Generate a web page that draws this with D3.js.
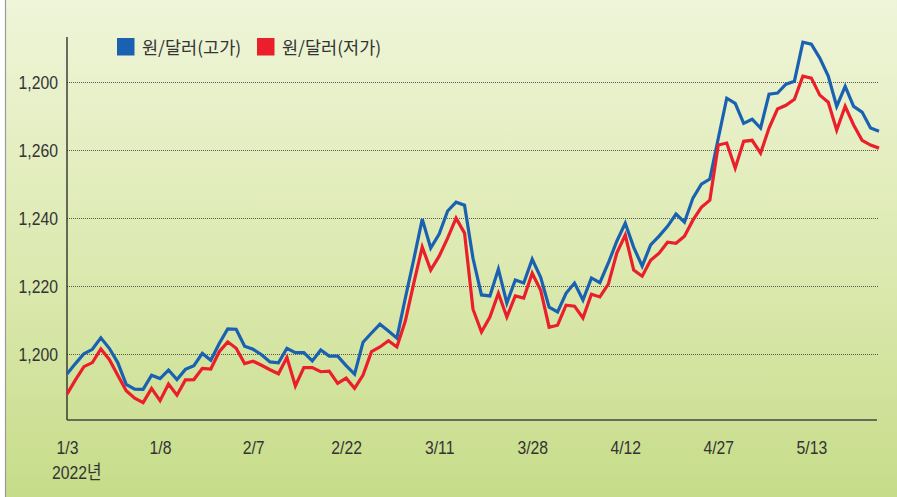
<!DOCTYPE html>
<html><head><meta charset="utf-8">
<script src="https://cdn.jsdelivr.net/npm/d3@7/dist/d3.min.js"></script>
<style>body{margin:0;background:#fff}</style></head>
<body><svg id="c" width="897" height="497"></svg>
<script>
const dateLabels = ["1/3","1/8","2/7","2/22","3/11","3/28","4/12","4/27","5/13"];
const dateIndex = [0,11,22,33,44,55,66,77,88];
const yearLabel = "2022년";
const yTicks = [1200,1220,1240,1260,1280];
const yTickLabels = ["1,200","1,220","1,240","1,260","1,200"];
const seriesNames = ["원/달러(고가)","원/달러(저가)"];
const high = [1194.1,1197.2,1200.1,1201.4,1204.8,1201.7,1197.5,1191.1,1189.7,1189.6,
1193.8,1192.8,1195.3,1192.5,1195.5,1196.6,1200.2,1198.2,1203.1,1207.4,
1207.3,1202.3,1201.4,1199.8,1197.7,1197.4,1201.7,1200.4,1200.4,1198.0,
1201.2,1199.4,1199.4,1196.6,1194.1,1203.5,1206.2,1208.8,1206.8,1204.7,
1216.5,1227.9,1239.7,1231.2,1235.3,1242.1,1244.7,1243.8,1228.2,1217.4,
1217.1,1225.0,1215.0,1221.8,1220.9,1227.9,1222.6,1213.8,1212.4,1217.9,
1220.9,1215.9,1222.4,1221.0,1226.8,1233.2,1238.5,1231.4,1225.9,1232.1,
1234.7,1237.6,1241.2,1238.8,1245.9,1250.0,1251.5,1263.5,1275.3,1273.8,
1267.9,1269.1,1266.5,1276.5,1276.8,1279.4,1280.3,1291.8,1291.2,1287.1,
1281.8,1272.9,1278.8,1272.9,1271.2,1266.5,1265.6];
const low = [1188.2,1192.4,1196.3,1197.5,1201.5,1198.4,1193.8,1189.2,1187.0,1185.7,
1189.9,1186.3,1191.2,1187.9,1192.4,1192.5,1195.8,1195.6,1200.7,1203.6,
1201.7,1197.2,1197.9,1196.7,1195.4,1194.2,1199.0,1190.6,1196.0,1196.0,
1194.8,1195.0,1191.4,1192.9,1189.9,1193.8,1200.7,1202.1,1203.9,1202.1,
1209.7,1220.9,1231.5,1224.7,1228.8,1234.1,1240.0,1235.6,1213.2,1206.5,
1210.9,1217.9,1210.9,1217.1,1216.5,1223.8,1218.8,1207.9,1208.5,1214.4,
1214.1,1210.6,1217.6,1216.8,1220.6,1229.7,1235.0,1224.7,1222.9,1227.6,
1229.7,1232.9,1232.6,1234.7,1239.4,1243.2,1245.3,1261.5,1262.1,1254.7,
1262.6,1262.9,1259.1,1266.5,1272.1,1273.2,1275.0,1281.8,1281.2,1276.2,
1274.1,1265.9,1272.9,1267.4,1262.9,1261.5,1260.6];
const colors = ["#1a62b1","#ea1f2b"];

const svg = d3.select("#c");
const W = 897, H = 497;
const defs = svg.append("defs");
const grad = defs.append("linearGradient").attr("id","bg").attr("x1",0).attr("y1",0).attr("x2",0).attr("y2",1);
grad.append("stop").attr("offset","0%").attr("stop-color","#eff5d9");
grad.append("stop").attr("offset","55%").attr("stop-color","#dce9af");
grad.append("stop").attr("offset","100%").attr("stop-color","#c6dc89");
svg.append("rect").attr("x",5.5).attr("y",-3).attr("width",W).attr("height",H+6)
  .attr("fill","url(#bg)").attr("stroke","#9a9a9a").attr("stroke-width",1.2);

const pLeft = 67, pRight = 879, pTop = 37, pBottom = 420;
const x = d3.scaleLinear().domain([0, high.length-1]).range([pLeft, pRight]);
const y = d3.scaleLinear().domain([1180.6, 1293.3]).range([pBottom, pTop]);

// gridlines
svg.append("g").selectAll("line").data(yTicks).join("line")
  .attr("x1", pLeft).attr("x2", pRight)
  .attr("y1", d=>Math.round(y(d))+0.5).attr("y2", d=>Math.round(y(d))+0.5)
  .attr("stroke","#5a5a4a").attr("stroke-width",1.1).attr("stroke-dasharray","1,1");

// y labels
const yAxis = d3.axisLeft(y).tickValues(yTicks).tickFormat((d,i)=>yTickLabels[i]).tickSize(0).tickPadding(0);
const gy = svg.append("g").attr("transform",`translate(${pLeft},0)`).call(yAxis);
gy.select(".domain").remove();
gy.selectAll("text").attr("x",0).attr("dy",null).attr("dominant-baseline","middle")
  .attr("transform","translate(-9,1) scale(0.83,1)")
  .attr("font-family","Liberation Sans, Arial, sans-serif").attr("font-size",19).attr("fill","#333");

// x labels
const xAxis = d3.axisBottom(x).tickValues(dateIndex).tickFormat((d,i)=>dateLabels[i]).tickSize(0).tickPadding(0);
const gx = svg.append("g").attr("transform",`translate(0,${pBottom})`).call(xAxis);
gx.select(".domain").remove();
gx.selectAll("text").attr("y",0).attr("dy",null)
  .attr("transform","translate(0,34) scale(0.83,1)")
  .attr("font-family","Liberation Sans, Arial, sans-serif").attr("font-size",19).attr("fill","#333");
svg.append("text").attr("transform",`translate(${x(0)-15},479) scale(0.83,1)`)
  .attr("font-family","Liberation Sans, 'Noto Sans CJK KR', sans-serif").attr("font-size",19).attr("fill","#333")
  .text(yearLabel);

// axis lines
svg.append("line").attr("x1",pLeft).attr("x2",pLeft).attr("y1",pTop).attr("y2",pBottom)
  .attr("stroke","#222").attr("stroke-width",1.3);
svg.append("line").attr("x1",pLeft).attr("x2",877).attr("y1",pBottom).attr("y2",pBottom)
  .attr("stroke","#444").attr("stroke-width",1.5);

// lines
const line = d3.line().x((d,i)=>x(i)).y(d=>y(d));
[high, low].forEach((s,k)=>{
  svg.append("path").datum(s).attr("d", line).attr("fill","none")
    .attr("stroke", colors[k]).attr("stroke-width",3.2).attr("stroke-linejoin","miter");
});

// legend
const legX = [117, 257];
seriesNames.forEach((n,k)=>{
  svg.append("rect").attr("x",legX[k]).attr("y",38).attr("width",17.5).attr("height",17.5).attr("fill",colors[k]);
  svg.append("text").attr("x",legX[k]+25).attr("y",54)
    .attr("font-family","'Noto Sans CJK KR', sans-serif").attr("font-size",17.5).attr("fill","#333")
    .text(n);
});
</script></body></html>
